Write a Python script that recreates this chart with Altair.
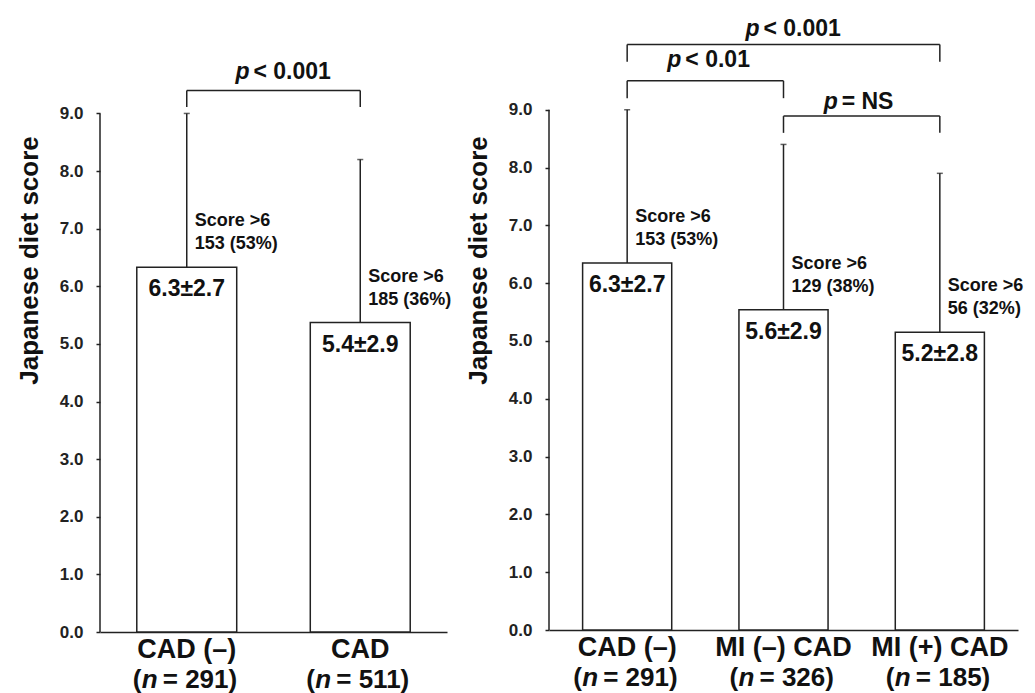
import altair as alt
import pandas as pd

FONT = "Liberation Sans"
INK = "#222222"

# ---------------- data ----------------
SCORE_TXT = "Score >6"
Y_TICKS = [0, 1, 2, 3, 4, 5, 6, 7, 8, 9]
Y_AXIS_TOP = [9.0]

# left panel
L_CATS = ["CAD (–)", "CAD"]
L_N = ["291", "511"]
L_MEAN = [6.33, 5.37]
L_ERR_TOP = [9.0, 8.2]
L_VALUE_TXT = ["6.3±2.7", "5.4±2.9"]
L_SCORE_CNT = ["153 (53%)", "185 (36%)"]
L_BR_X1 = [0]
L_BR_X2 = [1]
L_BR_TOP = [9.40]
L_BR_LEG = [9.11]
L_BR_LABY = [9.72]
L_BR_TXT = ["< 0.001"]

# right panel
R_CATS = ["CAD (–)", "MI (–) CAD", "MI (+) CAD"]
R_N = ["291", "326", "185"]
R_MEAN = [6.35, 5.54, 5.15]
R_ERR_TOP = [9.0, 8.4, 7.9]
R_VALUE_TXT = ["6.3±2.7", "5.6±2.9", "5.2±2.8"]
R_SCORE_CNT = ["153 (53%)", "129 (38%)", "56 (32%)"]
R_BR_X1 = [0, 0, 1]
R_BR_X2 = [2, 1, 2]
R_BR_TOP = [10.13, 9.50, 8.89]
R_BR_LEG = [9.83, 9.20, 8.60]
R_BR_LABY = [10.40, 9.86, 9.13]
R_BR_TXT = ["< 0.001", "< 0.01", "= NS"]


def panel(cats, ns, means, errs, vtxt, cnts, bx1, bx2, btop, bleg, blaby, btxt,
          width, height, ytop, half):
    k = len(cats)
    bars = pd.DataFrame({"i": list(range(k)), "cat": cats, "n": ns, "mean": means,
                         "err": errs, "vtxt": vtxt, "cnt": cnts})
    br = pd.DataFrame({"x1": bx1, "x2": bx2, "top": btop, "leg": bleg,
                       "laby": blaby, "txt": btxt})
    ax = pd.DataFrame({"x": [-0.5], "y0": [0.0], "y1": Y_AXIS_TOP})

    xs = alt.Scale(domain=[-0.5, k - 0.5], nice=False, zero=False)
    ys = alt.Scale(domain=[0, ytop], nice=False, zero=False)
    xaxis = alt.Axis(title=None, labels=False, ticks=False, grid=False, domain=True,
                     domainColor=INK, domainWidth=1.5)
    yaxis = alt.Axis(title="Japanese diet score", values=Y_TICKS, format=".1f",
                     grid=False, domain=False, tickSize=4, tickColor=INK, tickWidth=1.5,
                     labelFont=FONT, labelFontSize=17, labelFontWeight="bold",
                     labelColor=INK, labelPadding=13,
                     titleFont=FONT, titleFontSize=26, titleFontWeight="bold",
                     titleColor="#111", titlePadding=17, titleY=252)

    def X(f):
        return alt.X(f, type="quantitative", scale=xs, axis=xaxis)

    def Y(f):
        return alt.Y(f, type="quantitative", scale=ys, axis=yaxis)

    base = alt.Chart(bars)
    txt = dict(font=FONT, fontWeight="bold", color="#111")

    layers = []
    # y axis line (0 - 9)
    layers.append(alt.Chart(ax).mark_rule(color=INK, strokeWidth=1.5).encode(
        x=X("x"), y=Y("y0"), y2="y1"))
    # bars
    layers.append(base.transform_calculate(
        xl=f"datum.i - {half}", xr=f"datum.i + {half}", zero="0"
    ).mark_bar(fill="white", stroke=INK, strokeWidth=1.5).encode(
        x=X("xl"), x2="xr", y=Y("mean"), y2="zero"))
    # error bars
    layers.append(base.mark_rule(color=INK, strokeWidth=1.5).encode(
        x=X("i"), y=Y("mean"), y2="err"))
    layers.append(base.mark_tick(orient="horizontal", size=6, thickness=1.5, color=INK).encode(
        x=X("i"), y=Y("err")))
    # value labels inside bars
    layers.append(base.mark_text(dy=22, fontSize=23, baseline="middle", align="center", **txt).encode(
        x=X("i"), y=Y("mean"), text="vtxt:N"))
    # score annotations
    layers.append(base.mark_text(dx=8, dy=-46, fontSize=18, baseline="middle", align="left", **txt).encode(
        x=X("i"), y=Y("mean"), text=alt.value(SCORE_TXT)))
    layers.append(base.mark_text(dx=8, dy=-23, fontSize=18, baseline="middle", align="left", **txt).encode(
        x=X("i"), y=Y("mean"), text="cnt:N"))
    # x category labels
    zb = base.transform_calculate(zero="0", rest="'= ' + datum.n + ')'")
    layers.append(zb.mark_text(dy=18, fontSize=27, baseline="middle", align="center", **txt).encode(
        x=X("i"), y=Y("zero"), text="cat:N"))
    layers.append(zb.mark_text(dx=-54, dy=48, fontSize=26, baseline="middle", align="left", **txt).encode(
        x=X("i"), y=Y("zero"), text=alt.value("(")))
    layers.append(zb.mark_text(dx=-45, dy=48, fontSize=26, baseline="middle", align="left",
                               fontStyle="italic", **txt).encode(
        x=X("i"), y=Y("zero"), text=alt.value("n")))
    layers.append(zb.mark_text(dx=-24, dy=48, fontSize=26, baseline="middle", align="left", **txt).encode(
        x=X("i"), y=Y("zero"), text="rest:N"))
    # significance brackets
    bb = alt.Chart(br)
    layers.append(bb.mark_rule(color=INK, strokeWidth=1.5).encode(x=X("x1"), x2="x2", y=Y("top")))
    layers.append(bb.mark_rule(color=INK, strokeWidth=1.5).encode(x=X("x1"), y=Y("leg"), y2="top"))
    layers.append(bb.mark_rule(color=INK, strokeWidth=1.5).encode(x=X("x2"), y=Y("leg"), y2="top"))
    bm = bb.transform_calculate(xm="(datum.x1 + datum.x2) / 2")
    layers.append(bm.mark_text(dx=-38, fontSize=23, baseline="middle", align="left",
                               fontStyle="italic", **txt).encode(
        x=X("xm"), y=Y("laby"), text=alt.value("p")))
    layers.append(bm.mark_text(dx=-20, fontSize=23, baseline="middle", align="left", **txt).encode(
        x=X("xm"), y=Y("laby"), text="txt:N"))

    return alt.layer(*layers).properties(width=width, height=height)


left = panel(L_CATS, L_N, L_MEAN, L_ERR_TOP, L_VALUE_TXT, L_SCORE_CNT,
             L_BR_X1, L_BR_X2, L_BR_TOP, L_BR_LEG, L_BR_LABY, L_BR_TXT,
             width=347, height=624, ytop=10.83, half=0.288)
right = panel(R_CATS, R_N, R_MEAN, R_ERR_TOP, R_VALUE_TXT, R_SCORE_CNT,
              R_BR_X1, R_BR_X2, R_BR_TOP, R_BR_LEG, R_BR_LABY, R_BR_TXT,
              width=469, height=622, ytop=10.76, half=0.285)

chart = alt.hconcat(left, right, spacing=13).properties(
    padding={"left": 8, "top": 0, "right": 0, "bottom": 0},
    background="white",
).configure_view(strokeWidth=0, stroke=None)

chart.save("out.html", embed_options={"renderer": "svg", "actions": False})
